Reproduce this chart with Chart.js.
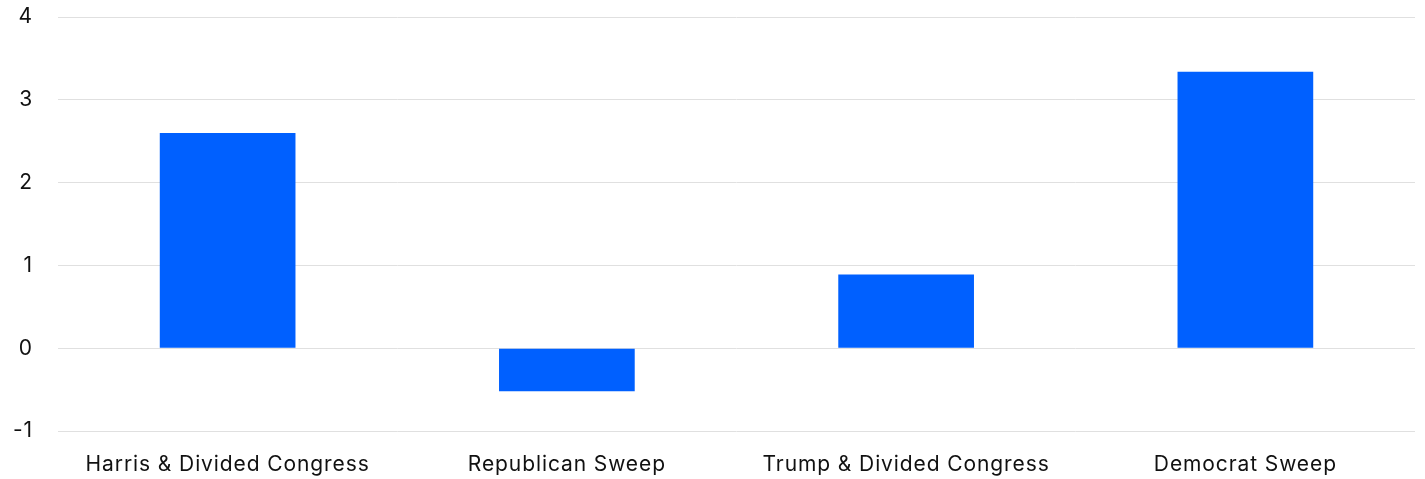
<!DOCTYPE html>
<html>
<head>
<meta charset="utf-8">
<script src="https://cdn.jsdelivr.net/npm/chart.js@4"></script>
<style>
html,body{margin:0;padding:0;background:#fff;}
#wrap{width:1425px;height:479px;position:relative;}
</style>
</head>
<body>
<div id="wrap"><canvas id="c"></canvas></div>
<script>
const categories = ["Harris & Divided Congress", "Republican Sweep", "Trump & Divided Congress", "Democrat Sweep"];
const values = [2.60, -0.52, 0.89, 3.34];
const yTicks = [-1, 0, 1, 2, 3, 4];

const spacing = {
  id: 'spacing',
  beforeDraw(chart) { chart.ctx.letterSpacing = '0.9px'; }
};

new Chart(document.getElementById('c'), {
  type: 'bar',
  data: {
    labels: categories,
    datasets: [{
      data: values,
      backgroundColor: '#0060ff',
      borderWidth: 0,
      barPercentage: 0.8,
      categoryPercentage: 0.5
    }]
  },
  plugins: [spacing],
  options: {
    responsive: true,
    maintainAspectRatio: false,
    animation: false,
    layout: { padding: { top: 17, right: 10, left: 0, bottom: 0 } },
    plugins: { legend: { display: false }, tooltip: { enabled: false } },
    scales: {
      x: {
        grid: { display: false, drawTicks: false },
        border: { display: false },
        afterFit: (s) => { s.height = 48; s.paddingTop = 0; s.paddingBottom = 0; },
        ticks: { color: '#111', font: { family: 'Inter', size: 21 }, padding: 21, maxRotation: 0 }
      },
      y: {
        min: yTicks[0],
        max: yTicks[yTicks.length - 1],
        afterBuildTicks: (s) => { s.ticks = yTicks.map(v => ({ value: v })); },
        afterFit: (s) => { s.width = 58; s.paddingTop = 0; s.paddingBottom = 0; },
        grid: { color: '#e0e0e0', drawTicks: false, lineWidth: 1 },
        border: { display: false },
        ticks: { color: '#111', font: { family: 'Inter', size: 21 }, padding: 25 }
      }
    }
  }
});
</script>
</body>
</html>
